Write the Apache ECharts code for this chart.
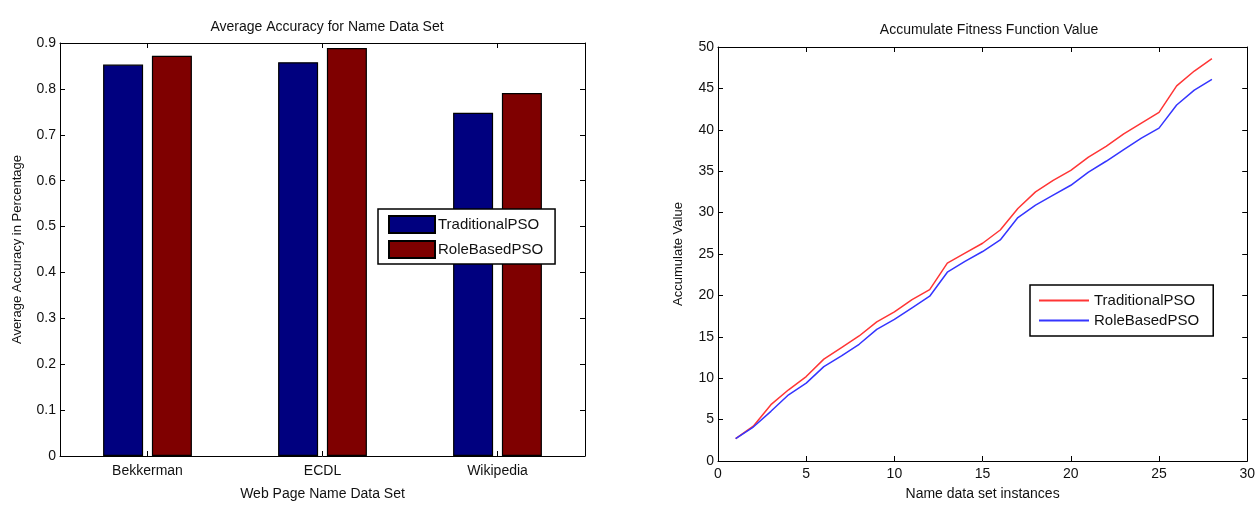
<!DOCTYPE html>
<html>
<head>
<meta charset="utf-8">
<script src="https://cdn.jsdelivr.net/npm/echarts@6/dist/echarts.min.js"></script>
<style>
html,body{margin:0;padding:0;background:#fff;}
#c{width:1258px;height:506px;}
</style>
</head>
<body>
<div id="c"></div>
<script>
// ---- Left chart data ----
const barCategories = ['Bekkerman', 'ECDL', 'Wikipedia'];
const traditionalAcc = [0.853, 0.858, 0.748];
const roleBasedAcc = [0.872, 0.889, 0.791];

// ---- Right chart data ----
const instances = [1,2,3,4,5,6,7,8,9,10,11,12,13,14,15,16,17,18,19,20,21,22,23,24,25,26,27,28];
const traditionalFit = [2.7,4.2,6.8,8.6,10.2,12.3,13.7,15.1,16.8,18.0,19.5,20.7,23.9,25.1,26.3,27.9,30.5,32.5,33.9,35.1,36.7,38.0,39.5,40.8,42.1,45.3,47.1,48.6];
const roleBasedFit = [2.7,4.1,6.0,8.0,9.4,11.4,12.7,14.1,15.9,17.1,18.5,19.9,22.8,24.1,25.3,26.7,29.4,30.9,32.1,33.3,34.9,36.2,37.6,39.0,40.2,43.0,44.8,46.1];

const FONT = 'Liberation Sans, Arial, sans-serif';
const txt = '#111';
const axisLine = {show: true, onZero: false, lineStyle: {color: '#000', width: 1}};
const inTick = {show: true, inside: true, length: 5, lineStyle: {color: '#000', width: 1}};

const chart = echarts.init(document.getElementById('c'), null, {renderer: 'canvas'});
chart.setOption({
  backgroundColor: '#fff',
  animation: false,
  textStyle: {fontFamily: FONT, color: txt},
  title: [
    {text: 'Average Accuracy for Name Data Set', left: 322, top: 15, textAlign: 'center',
     textStyle: {fontFamily: FONT, fontSize: 14, fontWeight: 'normal', color: txt}},
    {text: 'Accumulate Fitness Function Value', left: 984, top: 18, textAlign: 'center',
     textStyle: {fontFamily: FONT, fontSize: 14, fontWeight: 'normal', color: txt}}
  ],
  legend: [
    {
      data: ['TraditionalPSO', 'RoleBasedPSO'].map(n => ({name: n, icon: 'rect'})),
      orient: 'vertical', left: 378, top: 209,
      itemWidth: 46, itemHeight: 17, itemGap: 6,
      padding: [6, 12, 5, 10],
      borderColor: '#000', borderWidth: 1.5, backgroundColor: '#fff',
      textStyle: {fontFamily: FONT, fontSize: 15, color: txt, padding: [0,0,0,-2]},
      selectedMode: false
    },
    {
      data: [{name: 'TraditionalPSO ', icon: 'rect'}, {name: 'RoleBasedPSO ', icon: 'rect'}],
      orient: 'vertical', left: 1030, top: 285,
      itemWidth: 50, itemHeight: 2, itemGap: 5,
      padding: [8, 10, 8, 9],
      borderColor: '#000', borderWidth: 1.5, backgroundColor: '#fff',
      textStyle: {fontFamily: FONT, fontSize: 15, color: txt},
      selectedMode: false
    }
  ],
  grid: [
    {left: 60, top: 43, width: 525, height: 414.5, show: false},
    {left: 718, top: 47, width: 531, height: 419.5, show: false}
  ],
  xAxis: [
    {gridIndex: 0, type: 'category', data: barCategories, position: 'bottom',
     axisLine: axisLine, axisTick: Object.assign({alignWithLabel: true}, inTick),
     axisLabel: {fontFamily: FONT, fontSize: 14, color: txt, margin: 8},
     name: 'Web Page Name Data Set', nameLocation: 'middle', nameGap: 31,
     nameTextStyle: {fontFamily: FONT, fontSize: 14, color: txt}},
    {gridIndex: 0, type: 'category', data: barCategories, position: 'top',
     axisLine: axisLine, axisTick: Object.assign({alignWithLabel: true}, inTick),
     axisLabel: {show: false}},
    {gridIndex: 1, type: 'value', min: 0, max: 30, interval: 5, position: 'bottom',
     axisLine: axisLine, axisTick: inTick, splitLine: {show: false},
     axisLabel: {fontFamily: FONT, fontSize: 14, color: txt, margin: 6},
     name: 'Name data set instances', nameLocation: 'middle', nameGap: 26,
     nameTextStyle: {fontFamily: FONT, fontSize: 14, color: txt}},
    {gridIndex: 1, type: 'value', min: 0, max: 30, interval: 5, position: 'top',
     axisLine: axisLine, axisTick: inTick, splitLine: {show: false}, axisLabel: {show: false}}
  ],
  yAxis: [
    {gridIndex: 0, type: 'value', min: 0, max: 0.9, interval: 0.1, position: 'left',
     axisLine: axisLine, axisTick: inTick, splitLine: {show: false},
     axisLabel: {fontFamily: FONT, fontSize: 14, color: txt, margin: 4,
       formatter: v => (Math.round(v * 10) / 10).toString()},
     name: 'Average Accuracy in Percentage', nameLocation: 'middle', nameGap: 36,
     nameTextStyle: {fontFamily: FONT, fontSize: 13, color: txt}},
    {gridIndex: 0, type: 'value', min: 0, max: 0.9, interval: 0.1, position: 'right',
     axisLine: axisLine, axisTick: inTick, splitLine: {show: false}, axisLabel: {show: false}},
    {gridIndex: 1, type: 'value', min: 0, max: 50, interval: 5, position: 'left',
     axisLine: axisLine, axisTick: inTick, splitLine: {show: false},
     axisLabel: {fontFamily: FONT, fontSize: 14, color: txt, margin: 4},
     name: 'Accumulate Value', nameLocation: 'middle', nameGap: 33,
     nameTextStyle: {fontFamily: FONT, fontSize: 13, color: txt}},
    {gridIndex: 1, type: 'value', min: 0, max: 50, interval: 5, position: 'right',
     axisLine: axisLine, axisTick: inTick, splitLine: {show: false}, axisLabel: {show: false}}
  ],
  series: [
    {name: 'TraditionalPSO', type: 'bar', xAxisIndex: 0, yAxisIndex: 0,
     data: traditionalAcc, barWidth: 40, barGap: '22%',
     itemStyle: {color: '#00007f', borderColor: '#000', borderWidth: 1.2}},
    {name: 'RoleBasedPSO', type: 'bar', xAxisIndex: 0, yAxisIndex: 0,
     data: roleBasedAcc, barWidth: 40, barGap: '22%',
     itemStyle: {color: '#7f0000', borderColor: '#000', borderWidth: 1.2}},
    {name: 'TraditionalPSO ', type: 'line', xAxisIndex: 2, yAxisIndex: 2,
     data: instances.map((x, i) => [x, traditionalFit[i]]),
     showSymbol: false, symbol: 'none',
     lineStyle: {color: '#ff3535', width: 1.5}, itemStyle: {color: '#ff3535'}},
    {name: 'RoleBasedPSO ', type: 'line', xAxisIndex: 2, yAxisIndex: 2,
     data: instances.map((x, i) => [x, roleBasedFit[i]]),
     showSymbol: false, symbol: 'none',
     lineStyle: {color: '#3535ff', width: 1.5}, itemStyle: {color: '#3535ff'}}
  ]
});
</script>
</body>
</html>
